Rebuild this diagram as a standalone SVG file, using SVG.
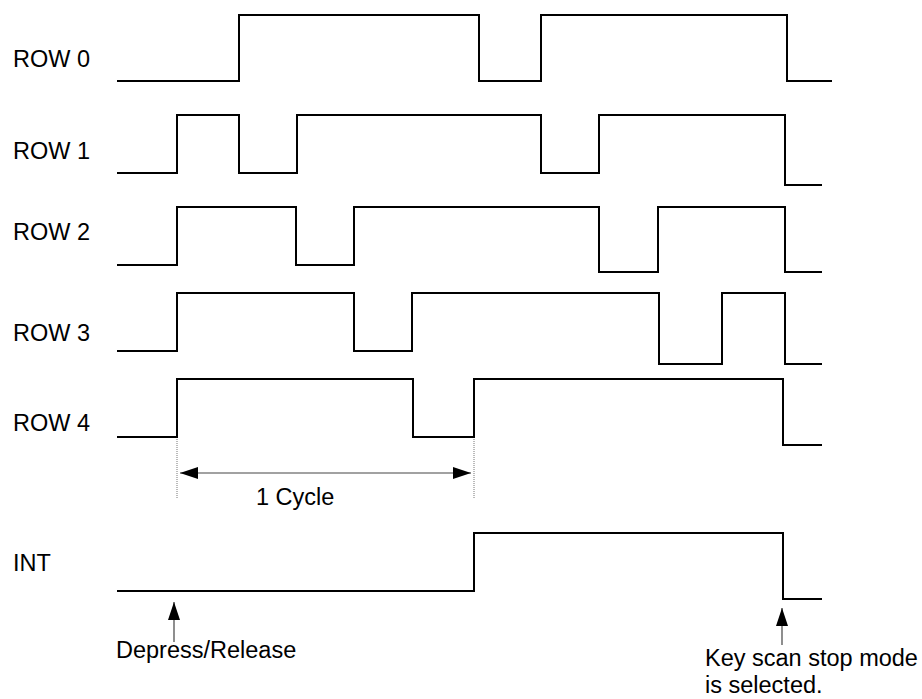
<svg xmlns="http://www.w3.org/2000/svg" width="922" height="699" viewBox="0 0 922 699">
<style>
.lbl{font-family:"Liberation Sans",Arial,sans-serif;font-size:23.5px;fill:#000}
.wave{fill:none;stroke:#000;stroke-width:2;stroke-linejoin:miter;stroke-linecap:butt}
.dot{stroke:#777;stroke-width:1;stroke-dasharray:1,1;fill:none}
.arr{stroke:#444;stroke-width:1.2;fill:none}
</style>
<defs>
<marker id="ah" markerUnits="userSpaceOnUse" markerWidth="18" markerHeight="12" refX="18" refY="6" orient="auto-start-reverse">
<path d="M0,0 L18,6 L0,12 z" fill="#000"/>
</marker>
</defs>
<rect width="922" height="699" fill="#fff"/>
<g id="row0">
<text class="lbl" x="13" y="67">ROW 0</text>
<polyline class="wave" points="117,81 239,81 239,15 479,15 479,81 541,81 541,15 787,15 787,81 832,81"/>
</g>
<g id="row1">
<text class="lbl" x="13" y="159">ROW 1</text>
<polyline class="wave" points="117,173 177,173 177,115 239,115 239,173 297,173 297,115 541,115 541,173 599,173 599,115 785,115 785,185 822,185"/>
</g>
<g id="row2">
<text class="lbl" x="13" y="240">ROW 2</text>
<polyline class="wave" points="117,265 177,265 177,207 296,207 296,265 354,265 354,207 599,207 599,272 658,272 658,207 785,207 785,272 822,272"/>
</g>
<g id="row3">
<text class="lbl" x="13" y="341">ROW 3</text>
<polyline class="wave" points="117,351 177,351 177,293 354,293 354,351 412,351 412,293 659,293 659,364 722,364 722,293 785,293 785,364 822,364"/>
</g>
<g id="row4">
<text class="lbl" x="13" y="431">ROW 4</text>
<polyline class="wave" points="117,437 177,437 177,379 413,379 413,437 474,437 474,379 783,379 783,445 822,445"/>
</g>
<g id="int">
<text class="lbl" x="13" y="571">INT</text>
<polyline class="wave" points="117,591 474,591 474,533 783,533 783,599 822,599"/>
</g>
<g id="cycle">
<line class="dot" x1="177" y1="439" x2="177" y2="498"/>
<line class="dot" x1="474" y1="439" x2="474" y2="498"/>
<text class="lbl" x="256" y="505">1 Cycle</text>
</g>
<g id="depress">
<text class="lbl" x="116" y="658">Depress/Release</text>
</g>
<g id="keyscan">
<text class="lbl" x="705" y="666">Key scan stop mode</text>
<text class="lbl" x="705" y="693">is selected.</text>
</g>
<g id="connectors">
<line class="arr" x1="180" y1="473" x2="471" y2="473" marker-start="url(#ah)" marker-end="url(#ah)"/>
<line class="arr" x1="174" y1="642" x2="174" y2="602" marker-end="url(#ah)"/>
<line class="arr" x1="782" y1="645" x2="782" y2="608" marker-end="url(#ah)"/>
</g>
</svg>
